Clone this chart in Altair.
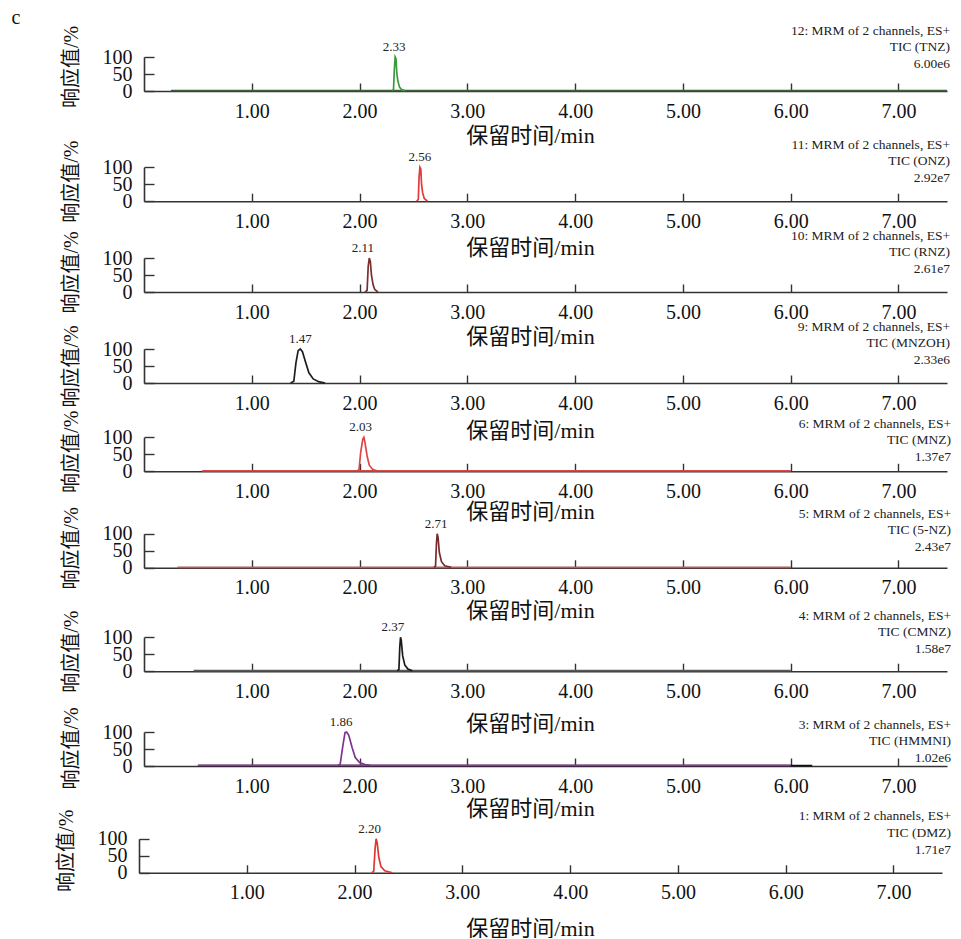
import altair as alt
import pandas as pd

# ---------------- data ----------------
compounds = ["TNZ", "ONZ", "RNZ", "MNZOH", "MNZ", "5-NZ", "CMNZ", "HMMNI", "DMZ"]
channel_no = ["12", "11", "10", "9", "6", "5", "4", "3", "1"]
tic_values = ["6.00e6", "2.92e7", "2.61e7", "2.33e6", "1.37e7", "2.43e7", "1.58e7", "1.02e6", "1.71e7"]
peak_rt_text = ["2.33", "2.56", "2.11", "1.47", "2.03", "2.71", "2.37", "1.86", "2.20"]
peak_label_x = [2.32, 2.56, 2.03, 1.45, 2.01, 2.71, 2.31, 1.83, 2.14]

x_ticks = [1, 2, 3, 4, 5, 6, 7]
y_ticks = [0, 50, 100]

# chromatogram traces (retention time in min, relative response in %)
tnz_base_t = [0.25, 7.45]
tnz_base_r = [1.2, 1.2]
tnz_peak_t = [2.30, 2.315, 2.322, 2.33, 2.338, 2.345, 2.355, 2.37, 2.39, 2.42]
tnz_peak_r = [1.2, 5, 60, 100, 95, 55, 30, 12, 4, 1.2]

onz_peak_t = [2.53, 2.545, 2.552, 2.56, 2.568, 2.575, 2.585, 2.60, 2.63]
onz_peak_r = [0, 5, 70, 100, 95, 50, 25, 8, 0]

rnz_peak_t = [2.05, 2.07, 2.08, 2.09, 2.10, 2.11, 2.125, 2.14, 2.17]
rnz_peak_r = [0, 5, 75, 100, 90, 50, 22, 8, 0]

mnzoh_peak_t = [1.36, 1.39, 1.41, 1.43, 1.45, 1.47, 1.50, 1.53, 1.57, 1.62, 1.68]
mnzoh_peak_r = [0, 5, 60, 95, 100, 92, 60, 30, 12, 4, 0]

mnz_base_t = [0.54, 6.00]
mnz_base_r = [1.5, 1.5]
mnz_peak_t = [1.98, 1.995, 2.01, 2.03, 2.04, 2.05, 2.07, 2.09, 2.12, 2.16]
mnz_peak_r = [1.5, 5, 55, 95, 100, 85, 45, 18, 6, 1.5]

nz5_base_t = [0.31, 6.00]
nz5_base_r = [1.5, 1.5]
nz5_peak_t = [2.69, 2.705, 2.713, 2.72, 2.728, 2.74, 2.76, 2.79, 2.85]
nz5_peak_r = [1.5, 5, 70, 100, 90, 45, 18, 6, 1.5]

cmnz_base_t = [0.46, 6.00]
cmnz_base_r = [1.5, 1.5]
cmnz_peak_t = [2.35, 2.365, 2.373, 2.38, 2.387, 2.40, 2.42, 2.45, 2.49]
cmnz_peak_r = [1.5, 5, 70, 100, 90, 45, 18, 6, 1.5]

hmmni_base2_t = [0.50, 6.20]
hmmni_base2_r = [1.0, 1.0]
hmmni_base_t = [0.50, 6.00]
hmmni_base_r = [2.0, 2.0]
hmmni_peak_t = [1.80, 1.82, 1.845, 1.865, 1.88, 1.90, 1.93, 1.96, 2.00, 2.05, 2.10]
hmmni_peak_r = [2, 5, 60, 98, 100, 90, 55, 25, 10, 4, 2]

dmz_peak_t = [2.16, 2.178, 2.19, 2.20, 2.21, 2.225, 2.245, 2.28, 2.35]
dmz_peak_r = [0, 5, 70, 100, 88, 45, 18, 6, 0]

# (times, responses, colour) per panel, drawn in order
traces = [
    [(tnz_base_t, tnz_base_r, "#3e5f3e"), (tnz_peak_t, tnz_peak_r, "#3c9a3c")],
    [(onz_peak_t, onz_peak_r, "#e23a3a")],
    [(rnz_peak_t, rnz_peak_r, "#7a2e2e")],
    [(mnzoh_peak_t, mnzoh_peak_r, "#1e1e1e")],
    [(mnz_base_t, mnz_base_r, "#d94848"), (mnz_peak_t, mnz_peak_r, "#e04545")],
    [(nz5_base_t, nz5_base_r, "#b85a5a"), (nz5_peak_t, nz5_peak_r, "#7a2c2c")],
    [(cmnz_base_t, cmnz_base_r, "#5a5a5a"), (cmnz_peak_t, cmnz_peak_r, "#1a1a1a")],
    [(hmmni_base2_t, hmmni_base2_r, "#111111"), (hmmni_base_t, hmmni_base_r, "#8a3c96"),
     (hmmni_peak_t, hmmni_peak_r, "#7e3590")],
    [(dmz_peak_t, dmz_peak_r, "#e03535")],
]

# ---------------- layout ----------------
PLOT_W = 803
PLOT_H = 34
panel_h = [34, 110.2, 90, 91, 88.3, 95.8, 103.2, 94.0, 106.8]
x_range = [[0, PLOT_W]] * 8 + [[-5, PLOT_W - 5]]
y_axis_offset = [0] * 8 + [5]
xtitle_off = [44.5, 46, 44, 47, 40, 43, 52, 42.5, 56]
ytitle_off = [-7.5, -3, -3, 0, -3, -3, -3, -1, -5.5]
annot_dy = [-27, -23, -23, -23, -14, -20.6, -22, -8, -23]
annot_dx = [3, 3, 3, 3, 4, 4, 4, 4, 4]

SERIF = "Liberation Serif, Noto Sans CJK SC"
AX = "#333333"


def panel(i):
    H = panel_h[i]
    xs = alt.Scale(domain=[0, 7.45], range=x_range[i], nice=False, zero=False)
    ys = alt.Scale(domain=[0, 100], range=[H, H - PLOT_H], nice=False)
    xax = alt.Axis(values=x_ticks, format=".2f", title="保留时间/min", grid=False,
                   tickSize=alt.ExprRef("-8"), labelPadding=18, labelOverlap=False,
                   titleX=386, titleY=xtitle_off[i], titleBaseline="middle", titleAlign="center")
    yax = alt.Axis(values=y_ticks, title="响应值/%", grid=False,
                   tickSize=alt.ExprRef("-10"), labelPadding=22, offset=y_axis_offset[i],
                   labelOverlap=False,
                   titleAngle=270, titleX=-73, titleY=H - PLOT_H / 2 + ytitle_off[i],
                   titleBaseline="middle", titleAlign="center")
    layers = []
    for (tt, rr, col) in traces[i]:
        df = pd.DataFrame({"t": tt, "r": rr})
        layers.append(
            alt.Chart(df).mark_line(color=col, strokeWidth=1.7, interpolate="linear").encode(
                x=alt.X("t:Q", scale=xs, axis=xax),
                y=alt.Y("r:Q", scale=ys, axis=yax),
            )
        )
    lab = pd.DataFrame({"t": [peak_label_x[i]], "r": [100], "txt": [peak_rt_text[i]]})
    layers.append(
        alt.Chart(lab).mark_text(font=SERIF, fontSize=13, dy=-6, baseline="alphabetic",
                                 align="center", color="#222").encode(
            x=alt.X("t:Q", scale=xs, axis=xax),
            y=alt.Y("r:Q", scale=ys, axis=yax),
            text="txt:N",
        )
    )
    ann_lines = [f"{channel_no[i]}: MRM of 2 channels, ES+", f"TIC ({compounds[i]})", tic_values[i]]
    layers.append(
        alt.Chart(pd.DataFrame({"k": [0]})).mark_text(
            text=ann_lines, font=SERIF, fontSize=13.5, lineHeight=16.7, align="right",
            baseline="alphabetic", color="#222").encode(
            x=alt.value(PLOT_W + annot_dx[i]),
            y=alt.value(H - PLOT_H + annot_dy[i] + 4.5),
        )
    )
    if i == 0:
        layers.append(
            alt.Chart(pd.DataFrame({"k": [0]})).mark_text(
                text="c", font=SERIF, fontSize=20, align="center", baseline="middle",
                color="#111").encode(x=alt.value(-128), y=alt.value(-39))
        )
    return alt.layer(*layers).properties(width=PLOT_W, height=H)


chart = alt.vconcat(*[panel(i) for i in range(9)], spacing=0, bounds="flush").configure(
    padding={"left": 3, "top": 0, "right": 0, "bottom": -2},
).configure_view(stroke=None).configure_axis(
    domainColor=AX, domainWidth=1.6, tickColor=AX, tickWidth=1.4,
    labelFont=SERIF, labelFontSize=20, labelColor="#111",
    titleFont=SERIF, titleFontSize=20, titleFontWeight="normal", titleColor="#111",
).configure_axisX(titleFontSize=22)

chart.save("out.html", embed_options={"renderer": "svg", "actions": False})
